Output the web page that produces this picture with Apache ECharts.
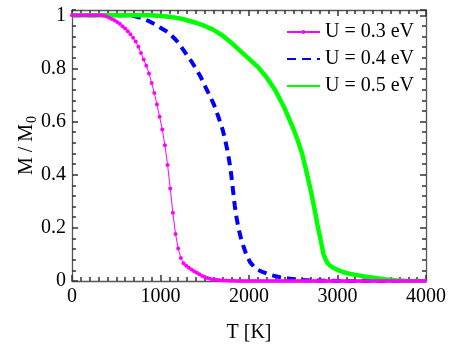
<!DOCTYPE html>
<html>
<head>
<meta charset="utf-8">
<script src="https://cdn.jsdelivr.net/npm/echarts@6/dist/echarts.min.js"></script>
<style>html,body{margin:0;padding:0;background:#fff;}#c{width:457px;height:348px;}</style>
</head>
<body>
<div id="c"></div>
<script>
// ---- data ----
var seriesNames = ['U = 0.3 eV', 'U = 0.4 eV', 'U = 0.5 eV'];
var xTicks = [0, 1000, 2000, 3000, 4000];
var yTicks = [0, 0.2, 0.4, 0.6, 0.8, 1];

// U = 0.3 eV (sampled points)
var tU03 = [0,30,60,90,120,150,180,210,240,270,300,330,360,390,420,450,480,510,540,570,600,630,660,690,720,750,780,810,840,870,900,930,960,990,1020,1050,1080,1110,1140,1170,1200,1230,1260,1290,1320,1350,1380,1410,1440,1470,1500,1530,1560,1590,1620,1650,1680,1710,1740,1770,1800,1830,1860,1890,1920,1950,1980,2010,2040,2070,2100,2130,2160,2190,2220,2250,2280,2310,2340,2370,2400,2430,2460,2490,2520,2550,2580,2610,2640,2670,2700,2730,2760,2790,2820,2850,2880,2910,2940,2970,3000,3030,3060,3090,3120,3150,3180,3210,3240,3270,3300,3330,3360,3390,3420,3450,3480,3510,3540,3570,3600,3630,3660,3690,3720,3750,3780,3810,3840,3870,3900,3930,3960,3990];
var mU03 = [1,1,1,1,1,1,1,1,1,1,1,1,
  0.999,0.996,0.991,0.986,0.981,0.975,0.968,0.959,0.950,0.940,0.929,0.916,0.901,0.882,0.858,0.834,
  0.810,0.781,0.745,0.708,0.664,0.618,0.570,0.511,0.437,0.348,0.257,0.177,0.122,0.087,0.067,0.057,0.050,0.043,0.037,0.031,0.025,0.019,0.015,0.011,0.008,0.006,0.005,0.004,0.003,0.002,0.002,0.001,0.001,0.001,
  0,0,0,0,0,0,0,0,0,0,0,0,0,0,0,0,0,0,0,0,0,0,0,0,0,0,0,0,0,0,0,0,0,0,0,0,
  0,0,0,0,0,0,0,0,0,0,0,0,0,0,0,0,0,0,0,0,0,0,0,0,0,0,0,0,0,0,0,0,0,0,0,0];

// U = 0.4 eV
var tU04 = [0,300,600,700,800,870,940,1000,1070,1120,1170,1220,1260,1300,1350,1400,1450,1500,1550,1600,1650,1700,1730,1760,1780,1800,1820,1840,1860,1880,1910,1940,1970,2010,2060,2100,2160,2250,2350,2450,2550,2700,2900,3100,4000];
var mU04 = [1,1,1,0.997,0.988,0.978,0.966,0.953,0.939,0.925,0.909,0.888,0.869,0.850,0.826,0.800,0.771,0.736,0.702,0.667,0.622,0.572,0.532,0.485,0.445,0.398,0.340,0.282,0.238,0.200,0.160,0.128,0.099,0.072,0.052,0.042,0.033,0.022,0.014,0.009,0.005,0.002,0.001,0,0];

// U = 0.5 eV
var tU05 = [0,500,900,1100,1250,1400,1500,1600,1700,1800,1900,2000,2100,2200,2300,2400,2500,2550,2600,2650,2700,2750,2780,2810,2840,2870,2900,2950,3000,3070,3150,3220,3300,3370,3450,3550,3650,3750,3850,4000];
var mU05 = [1,1,1,0.995,0.986,0.972,0.960,0.945,0.924,0.897,0.866,0.836,0.806,0.766,0.716,0.652,0.574,0.530,0.480,0.410,0.338,0.254,0.200,0.155,0.102,0.078,0.062,0.050,0.042,0.033,0.026,0.022,0.017,0.014,0.010,0.006,0.003,0.001,0,0];

function pairs(t, m) { return t.map(function (v, i) { return [v, m[i]]; }); }

var FONT = '"Liberation Serif", "DejaVu Serif", serif';
var FRAME = '#555';
var TICK = '#333';

var chart = echarts.init(document.getElementById('c'), null, {renderer: 'canvas'});

function xAx(pos, labels, interval, tickLen, line) {
  return {
    type: 'value', position: pos, min: xTicks[0], max: xTicks[xTicks.length - 1],
    interval: interval,
    axisLine: {show: line, onZero: false, lineStyle: {color: FRAME, width: 1.3}},
    axisTick: {show: true, inside: true, length: tickLen, lineStyle: {color: TICK, width: 1.5}},
    splitLine: {show: false},
    axisLabel: {show: labels, color: '#000', fontFamily: FONT, fontSize: 20, margin: 6,
      formatter: function (v) { return String(v); }},
    name: labels ? 'T [K]' : '', nameLocation: 'middle', nameGap: 42, nameMoveOverlap: false,
    nameTextStyle: {color: '#000', fontFamily: FONT, fontSize: 20}
  };
}
function yAx(pos, labels, interval, tickLen, line) {
  return {
    type: 'value', position: pos, min: 0, max: 1.02, interval: interval,
    axisLine: {show: line, onZero: false, lineStyle: {color: FRAME, width: 1.3}},
    axisTick: {show: true, inside: true, length: tickLen, lineStyle: {color: TICK, width: 1.5}},
    splitLine: {show: false},
    axisLabel: {show: labels, showMaxLabel: false, color: '#000', fontFamily: FONT, fontSize: 20, margin: 6,
      formatter: function (v) { var r = Math.round(v * 100) / 100; return yTicks.indexOf(r) >= 0 ? String(r) : ''; }},
    name: labels ? '{a|M / M}{b|0}' : '', nameLocation: 'middle', nameGap: 33, nameRotate: 90, nameMoveOverlap: false,
    nameTextStyle: {color: '#000', fontFamily: FONT, fontSize: 20,
      rich: {a: {fontFamily: FONT, fontSize: 20, color: '#000', lineHeight: 24},
             b: {fontFamily: FONT, fontSize: 14, color: '#000', lineHeight: 14, verticalAlign: 'bottom', padding: [0, 0, 0, 1]}}}
  };
}

var option = {
  backgroundColor: '#fff',
  animation: false,
  textStyle: {fontFamily: FONT},
  grid: {left: 72, right: 31, top: 10, bottom: 66, containLabel: false},
  legend: {
    data: [
      {name: seriesNames[0]},
      {name: seriesNames[1], itemStyle: {opacity: 0}},
      {name: seriesNames[2], itemStyle: {opacity: 0}}
    ],
    orient: 'vertical', left: 281, top: 17,
    itemWidth: 33, itemHeight: 5, itemGap: 7,
    textStyle: {color: '#000', fontFamily: FONT, fontSize: 20, lineHeight: 20}
  },
  xAxis: [
    xAx('bottom', true, 1000, 6, true),
    xAx('bottom', false, 100, 4, false),
    xAx('top', false, 1000, 6, true),
    xAx('top', false, 100, 4, false)
  ],
  yAxis: [
    yAx('left', true, 0.2, 6, true),
    yAx('left', false, 0.04, 4, false),
    yAx('right', false, 0.2, 6, true),
    yAx('right', false, 0.04, 4, false)
  ],
  series: [
    {name: seriesNames[0], type: 'line', data: pairs(tU03, mU03), xAxisIndex: 0, yAxisIndex: 0,
     symbol: 'circle', symbolSize: 4, showSymbol: true,
     lineStyle: {color: '#ff00ff', width: 1}, itemStyle: {color: '#ff00ff'}},
    {name: seriesNames[1], type: 'line', data: pairs(tU04, mU04), xAxisIndex: 0, yAxisIndex: 0,
     symbol: 'none', showSymbol: false,
     lineStyle: {color: '#0000ff', width: 4, type: [9, 6]}, itemStyle: {color: '#0000ff'}},
    {name: seriesNames[2], type: 'line', data: pairs(tU05, mU05), xAxisIndex: 0, yAxisIndex: 0,
     symbol: 'none', showSymbol: false,
     lineStyle: {color: '#00ff00', width: 4.5}, itemStyle: {color: '#00ff00'}}
  ]
};
chart.setOption(option);
</script>
</body>
</html>
